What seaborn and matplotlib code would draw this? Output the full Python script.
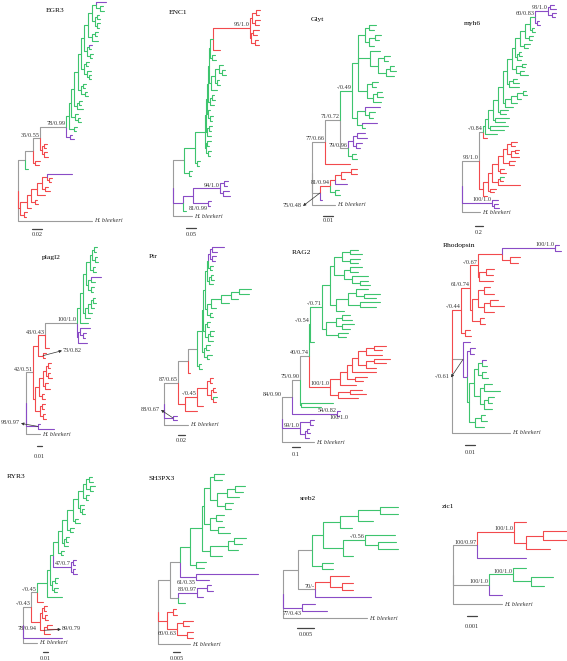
import matplotlib
matplotlib.use('Agg')
import matplotlib.pyplot as plt
import pandas as pd
import seaborn as sns

# Gene trees in Newick form, children listed top to bottom.
# {c|label|dx,dy|a}: branch colour (r, g, p, k), support label, label offset in px, arrow.
EGR3 = """
(
 (
  (
   (
    (
     (
      (
       (
        (
         (
          (
           (
            (
             ({p}:.02,(:.006,:.008):.008):.008,
             ((:.004,:.006):.004,(:.006,:.004):.004):.006
            ):.008,
            ((:.006,:.004):.006,:.012):.008
           ):.008,
           (({p}:.006,:.004):.004,(:.006,:.004):.006):.006
          ):.006,
          ((:.006,:.004):.004,(:.008,(:.004,:.004):.004):.006):.006
         ):.006,
         ((:.006,:.004):.004,(:.004,:.006):.008):.006
        ):.008,
        ((:.006,:.004):.004,:.012):.006
       ):.006,
       (:.006,(:.004,:.006):.006):.008
      ):.004,
      (:.006,:.004):.01
     ){g}:.006,
     ({p}:.004,{p}:.008){p}:.008
    ){k|78/0.99}:.052,
    ((:.006,:.004):.004,(:.006,:.008):.004){r}:.004
   ){k|35/0.55}:.014,
   (:.01,:.008){r}:.004
  ){k}:.016,
  {g}:.006
 ){k}:.014,
 (((((({p}:.05,(:.006,:.004):.004):.01,(:.006,:.01):.006):.01,:.016):.012,(:.004,:.006):.008):.008,:.008):.014,(:.006,:.004):.008){r}:.004,
 Hb{k}:.148
)
"""

ENC1 = """
(
 (
  (
   (
    (
     (
      (
       (
        (
         (
          (((:.02,:.015):.02,(:.025,:.02):.015):.01,((:.03,:.02):.01,(:.015,:.02):.02):.005){r|95/1.0}:.185,
          {r}:.035
         ){g}:.015,
         (:.015,:.02):.01
        ):.005,
        (((:.02,(:.015,:.02):.015):.02,(:.01,:.015):.01):.02,:.03):.01
       ):.005,
       ((:.01,:.015):.01,:.02):.01
      ):.005,
      (:.01,(:.015,:.01):.01):.005
     ):.005,
     ((:.015,:.01):.01,:.02):.005
    ):.005,
    ((:.02,:.01):.005,(:.015,:.01):.01):.005
   ):.05,
   (:.015,:.01):.01
  ){g}:.055,
  (:.015,:.01){g}:.025
 ){k}:.055,
 (
  (
   ((:.02,:.015):.02,(:.03,:.035):.015){p|94/1.0}:.135,
   (:.015,:.01){p|81/0.99|0,8}:.075
  ):.05,
  {g}:.015
 ){p}:.05,
 Hb{k}:.095
)
"""

GLYT = """
(
 (
  (
   (
    (
     ((:.007,:.005):.004,((:.006,:.004):.006,:.005):.004):.007,
     (:.01,((:.006,:.004):.006,((:.004,:.006):.004,:.008):.008):.008):.012,
     ((:.006,:.004):.005,((:.005,:.006):.004,:.008):.006):.009
    ):.006,
    (({p}:.015,(:.006,:.004):.004):.008,({p}:.015,:.003):.005):.005
   ){g|-/0.49}:.012,
   (((:.008,:.01):.004,(:.006,:.004):.003){p}:.005,(:.004,:.005){g}:.004){k|79/0.96}:.008
  ){k|71/0.72}:.015,
  {r}:.025
 ){k|77/0.66}:.013,
 (((((:.006,:.006):.01,:.004):.006,{p}:.012):.005,(:.004,:.005){g}:.005){r|81/0.94}:.01,{p}:.002){k|75/0.48|-18,15|a}:.008,
 Hb{k}:.023
)
"""

MYH6 = """
(
 (
  (
   (
    (
     (
      (
       (
        (
         (
          (
           (
            (
             (
              (
               ((:.1,:.15):.05,(:.1,:.075):.1){p|93/1.0}:.325,
               (:.05,:.075){p}:.05
              ){g|60/0.83}:.125,
              (:.05,:.075):.05
             ):.125,
             (:.1,:.075):.1
            ):.125,
            (:.15,:.1):.1
           ):.125,
           ((:.05,:.075):.05,:.1):.05
          ):.075,
          ((:.1,:.075):.15,(:.1,:.2):.1):.1
         ):.125,
         ((:.1,:.15):.1,:.25):.05
        ):.1,
        ((((:.075,:.1):.15,:.1):.15,:.15):.15,:.2):.05
       ):.125,
       (:.2,:.15):.05
      ):.125,
      (:.35,:.25):.05
     ):.125,
     (:.45,:.35):.05
    ):.075,
    :.3
   ){g}:.05,
   {r}:.1
  ){k|-/0.84}:.1,
  (((((((:.15,:.1):.1,((:.1,:.075):.1,:.2):.1):.1,(:.15,:.125):.15):.125,(:.1,:.15):.05):.15,(({g}:.1,:.075):.05,:.55):.15):.1,(:.15,:.1):.05):.125,:.1){r}:.1
 ){k|93/1.0}:.425,
 (:.15,(:.1,:.125):.05){p|100/1.0}:.75,
 Hb{k}:.45
)
"""

PLAGL2 = """
(
 (
  (
   (
    (
     (
      (
       (
        (
         ((:.006,:.004):.004,(:.004,:.006):.006):.004,
         (:.004,:.006):.006
        ):.008,
        (({p}:.02,:.008):.006,(:.006,:.004):.006):.004
       ):.006,
       ((((:.004,:.006):.004,:.006):.006,:.008):.006,:.01):.004
      ):.006,
      :.016
     ){g}:.006,
     ((:.02,(:.006,:.004):.006):.004,:.018){p}:.002
    ){k|100/1.0}:.064,
    {r}:.008
   ){r|43/0.43}:.014,
   (:.006,:.004){r|73/0.82|20,-3|a}:.01
  ){r}:.01,
  (((((:.006,:.004):.004,(:.004,:.008):.004):.006,(:.006,:.01):.004):.008,(:.004,:.006):.006):.008,((:.006,:.004):.004,(:.004,:.006):.006):.01){r}:.004
 ){k|42/0.51}:.014,
 ({p}:.004,{p}:.032){p|98/0.97|-18,-1|a}:.024,
 Hb{k}:.028
)
"""

PTR = """
(
 (
  (
   (
    (
     (
      (
       (
        (
         ((:.036,:.015):.006,(:.012,:.009):.006){p}:.006,
         (:.009,:.006):.006
        ):.003,
        ((:.006,:.009):.006,:.012):.006
       ):.006,
       (((((:.036,:.03):.024,:.021):.03,:.024):.03,:.015):.012,(:.006,:.009):.009):.006
      ):.006,
      ((:.009,:.006):.006,((:.012,:.009):.006,:.015):.009):.006
     ):.003,
     ((:.012,:.009):.006,(:.015,:.006):.009):.006
    ){g}:.015,
    (:.006,:.009){g}:.006
   ){k}:.027,
   {r}:.006
  ){k}:.03,
  (
   (
    ((:.009,:.006):.009,((:.006,:.009):.006,({g}:.012,:.009):.006):.012):.03,
    :.018
   ){r|-/0.45}:.036,
   :.036
  ){r}:.021
 ){k|87/0.65}:.042,
 (:.012,:.012){p|88/0.67|-13,-6|a}:.027,
 Hb{k}:.072
)
"""

RAG2 = """
(
 (
  (
   (
    (
     (
      (
       (((:.1,:.15):.1,(:.125,:.1):.1):.1,((:.15,:.1):.075,(:.2,(:.1,:.125):.1):.1):.125):.05,
       (((:.15,(:.2,:.15):.1):.1,(:.25,:.2):.15):.15,:.1):.075
      ):.1,
      (((:.1,:.125):.075,(:.15,:.1):.075):.125,(:.125,:.1):.15):.05
     ){g|-/0.71}:.15,
     :.05
    ){g|-/0.54}:.0125,
    (((((((:.15,:.1):.1,:.2):.1,((:.2,:.15):.1,:.125):.1):.075,:.3):.0625,(:.15,:.1):.1):.0875,:.2):.125,((:.15,:.2):.15,:.25):.1){r|100/1.0}:.2625
   ){k|40/0.74}:.1125,
   (:.4,:.25){g}:.0125
  ){k|75/0.90}:.1,
  (:.0375,:.025){p|54/0.82}:.5625
 ){k|84/0.90|-10,0}:.125,
 ((:.05,:.0375){p|100/1.0|19,-2}:.125,((:.025,:.0375):.025,:.05):.0625){p|99/1.0}:.225,
 Hb{k}:.4
)
"""

RHODOPSIN = """
(
 (
  (
   (
    ((:.004,:.006){p|100/1.0}:.053,(:.01,:.008):.008):.024,
    ((:.008,:.007):.007,:.014):.001
   ){r|-/0.67}:.008,
   (((:.006,:.01):.006,((:.008,:.014):.006,:.01):.006):.006,(:.004,:.005):.008):.002
  ){r|61/0.74}:.009,
  (:.005,:.006):.004
 ){r|-/0.44}:.009,
 (
  {p}:.007,
  (
   (:.005,:.004):.003,
   (((({p}:.004,:.005):.004,(:.004,:.006):.004):.004,((:.008,:.016):.004,((:.006,:.004):.004,:.008):.004):.006):.005,((:.004,:.006):.006,:.009):.006){g}:.002
  ){p}:.004
 ){k|-/0.61|-13,20|a}:.011,
 Hb{k}:.058
)
"""

RYR3 = """
(
 (
  (
   (
    (
     (
      (
       (
        (
         (
          (
           (
            ((:.006,:.008):.006,(:.01,:.006):.008):.006,
            (:.006,:.004):.006
           ):.01,
           (:.008,(:.004,:.006):.004):.004
          ):.01,
          (:.006,:.01):.004
         ):.012,
         (:.008,:.006):.006
        ):.01,
        ((:.006,:.004):.004,:.008):.004
       ):.008,
       (:.006,:.004):.006
      ):.01,
      ((:.006,:.004):.004,(:.004,:.008):.004){p|47/0.7}:.036
     ):.006,
     ((:.006,:.004):.006,(:.008,:.006):.004):.004
    ):.006,
    :.03
   ){g}:.02,
   {r}:.012
  ){k|-/0.45}:.012,
  (((:.006,:.004):.004,(:.004,:.006):.006):.004,((:.01,:.02):.006,:.012){r|89/0.79|18,1|a}:.008){r|78/0.94|-3,9}:.018
 ){k|-/0.43}:.016,
 {p}:.078,
 Hb{k}:.028
)
"""

SH3PX3 = """
(
 (
  (
   (
    (
     (
      (
       (:.0075,:.006):.003,
       (((:.0075,:.006):.006,:.009):.0075,(:.006,:.0045):.006):.00525
      ):.0045,
      ((:.006,:.0045):.0045,(:.0045,:.009):.006):.0045
     ):.0015,
     (((:.009,:.006):.0045,:.0075):.0135,:.009):.006
    ):.009,
    (:.0075,:.006):.0045
   ){g}:.0075,
   (:.0465,:.00975){p|61/0.35|0,8}:.012
  ){k}:.0075,
  (
   ((:.003,:.0045):.0075,:.0045){p|83/0.97}:.01425,
   {g}:.00525
  ){k}:.006
 ){k}:.009,
 ((:.00225,:.003):.0045,((:.0075,:.0045):.0045,(:.0045,:.0045):.0075){r|60/0.63|0,7}:.0075){r}:.00675,
 Hb{k}:.024
)
"""

SREB2 = """
(
 (
  (
   (
    (((:.0054,:.0054):.0066,:.0045):.0054,:.0036):.0051,
    ((:.009,(:.0054,:.006):.0039){g|-/0.56}:.0066,:.003):.006
   ){g}:.0033,
   (:.0033,:.0033){g}:.003
  ){k}:.0042,
  (({r}:.0057,(:.0033,:.0033){r}:.0036){r}:.0045,{p}:.0168){k|70/-}:.0051
 ){k}:.0045,
 ({p}:.0039,{p}:.0075){p|77/0.43|0,8}:.0057,
 Hb{k}:.0252
)
"""

ZIC1 = """
(
 (({r}:.0012,((:.0024,:.0024):.0017,:.0024):.0012){r|100/1.0}:.0037,{p}:.0049){k|100/0.97}:.0024,
 ((:.0013,(:.0022,:.0013):.0018){g|100/1.0}:.0024,{p}:.0013){k|100/1.0}:.0036,
 Hb{k}:.0049
)
"""

genes = ['EGR3', 'ENC1', 'Glyt', 'myh6', 'plagl2', 'Ptr',
         'RAG2', 'Rhodopsin', 'RYR3', 'SH3PX3', 'sreb2', 'zic1']
trees = [EGR3, ENC1, GLYT, MYH6, PLAGL2, PTR, RAG2, RHODOPSIN, RYR3, SH3PX3, SREB2, ZIC1]
scale_values = [0.02, 0.05, 0.01, 0.2, 0.01, 0.02, 0.1, 0.01, 0.01, 0.005, 0.005, 0.001]
scale_text = ['0.02', '0.05', '0.01', '0.2', '0.01', '0.02', '0.1', '0.01', '0.01', '0.005', '0.005', '0.001']

# placement of each panel on the 567 x 661 px canvas
root_x = [18, 173, 312, 462, 26, 164, 282, 452, 23, 158, 283, 453]
leaf_top = [2, 10, 25, 5, 247, 247, 250, 245, 477, 474, 507, 522]
leaf_bottom = [221, 216, 205, 212, 434, 425, 442, 433, 643, 644, 618, 604]
px_per_unit = [500, 200, 1000, 40, 500, 1 / 0.003, 80, 1000, 500, 1 / 0.00075, 1 / 0.0003, 10000]
title_pos = [(55, 10), (178, 13), (317, 19), (472, 24), (51, 257), (153, 257),
             (301, 252), (459, 246), (16, 476), (162, 479), (308, 498), (448, 507)]
bar_pos = [(32, 229, 235), (186, 228, 234), (323, 216, 221), (475, 226, 232),
           (37, 446, 456), (178, 435, 441), (292, 447, 455), (465, 445, 452),
           (43, 652, 658), (173, 652, 658), (297, 628, 634), (467, 616, 626)]

colours = {'r': '#f24a4d', 'g': '#3ec46e', 'p': '#8a4cc6', 'k': '#9c9c9c'}
ink = '#333333'


def parse(text):
    s = ''.join(text.split())
    pos = 0

    def node():
        nonlocal pos
        n = {'kids': [], 'col': None, 'lab': None, 'off': None, 'arrow': False, 'len': 0.0}
        if s[pos] == '(':
            pos += 1
            n['kids'].append(node())
            while s[pos] == ',':
                pos += 1
                n['kids'].append(node())
            assert s[pos] == ')'
            pos += 1
        start = pos
        while pos < len(s) and s[pos] not in '{:,()':
            pos += 1
        n['name'] = s[start:pos]
        if pos < len(s) and s[pos] == '{':
            end = s.index('}', pos)
            parts = s[pos + 1:end].split('|')
            n['col'] = parts[0] or None
            if len(parts) > 1:
                n['lab'] = parts[1]
            if len(parts) > 2:
                n['off'] = tuple(float(v) for v in parts[2].split(','))
            n['arrow'] = len(parts) > 3
            pos = end + 1
        if pos < len(s) and s[pos] == ':':
            pos += 1
            start = pos
            while pos < len(s) and s[pos] not in ',()':
                pos += 1
            n['len'] = float(s[start:pos])
        return n

    tree = node()
    assert pos == len(s)
    return tree


def place(n, x, col, leaves):
    n['x'] = x + n['len']
    n['c'] = n['col'] or col
    for k in n['kids']:
        place(k, n['x'], n['c'], leaves)
    if n['kids']:
        n['y'] = (n['kids'][0]['y'] + n['kids'][-1]['y']) / 2
    else:
        n['y'] = len(leaves)
        leaves.append(n)


rows = []
labels = []
seg = 0
for i, text in enumerate(trees):
    root = parse(text)
    leaves = []
    place(root, 0.0, 'k', leaves)
    step = (leaf_bottom[i] - leaf_top[i]) / (len(leaves) - 1)

    def to_px(n):
        return root_x[i] + n['x'] * px_per_unit[i], leaf_top[i] + n['y'] * step

    stack = [root]
    while stack:
        n = stack.pop()
        nx, ny = to_px(n)
        for k in n['kids']:
            kx, ky = to_px(k)
            for x, y in [(nx, ny), (nx, ky), (kx, ky)]:
                rows.append({'seg': seg, 'x': x, 'y': y, 'col': k['c']})
            seg += 1
            stack.append(k)
        if n['lab']:
            labels.append((nx, ny, n['lab'], n['off'], n['arrow']))
        if n['name'] == 'Hb':
            labels.append((nx, ny, 'H. bleekeri', 'tip', False))

segments = pd.DataFrame(rows)

sns.set_theme(style='white')
plt.rcParams['font.family'] = ['Liberation Serif', 'DejaVu Serif']

fig = plt.figure(figsize=(5.67, 6.61), dpi=100)
ax = fig.add_axes([0, 0, 1, 1])
sns.lineplot(data=segments, x='x', y='y', units='seg', hue='col', palette=colours,
             estimator=None, sort=False, legend=False, linewidth=0.8, ax=ax)

for x, y, lab, off, arrow in labels:
    if off == 'tip':
        ax.text(x + 2.5, y, lab, style='italic', ha='left', va='center', fontsize=4.6, color=ink)
    elif off is None:
        ax.text(x - 0.5, y - 0.8, lab, ha='right', va='bottom', fontsize=4.5, color=ink)
    else:
        dx, dy = off
        ha = 'left' if dx > 0 else 'right'
        ax.text(x + dx, y + dy, lab, ha=ha, va='bottom', fontsize=4.5, color=ink)
        if arrow:
            tx = x + dx - 1 if dx > 0 else x + dx + 1
            ax.annotate('', xy=(tx, y + dy - 2), xytext=(x, y),
                        arrowprops=dict(arrowstyle='-|>', lw=0.5, color=ink,
                                        mutation_scale=4, shrinkA=0, shrinkB=0))

for i, gene in enumerate(genes):
    tx, ty = title_pos[i]
    ax.text(tx, ty, gene, ha='center', va='center', fontsize=5.4, color='black')
    bx, by, ly = bar_pos[i]
    length = scale_values[i] * px_per_unit[i]
    ax.plot([bx, bx + length], [by, by], color='#444444', lw=0.9)
    ax.text(bx + length / 2, ly, scale_text[i], ha='center', va='center', fontsize=4.6, color=ink)

ax.set_xlim(0, 567)
ax.set_ylim(661, 0)
ax.axis('off')
fig.savefig('out.png', dpi=100)
